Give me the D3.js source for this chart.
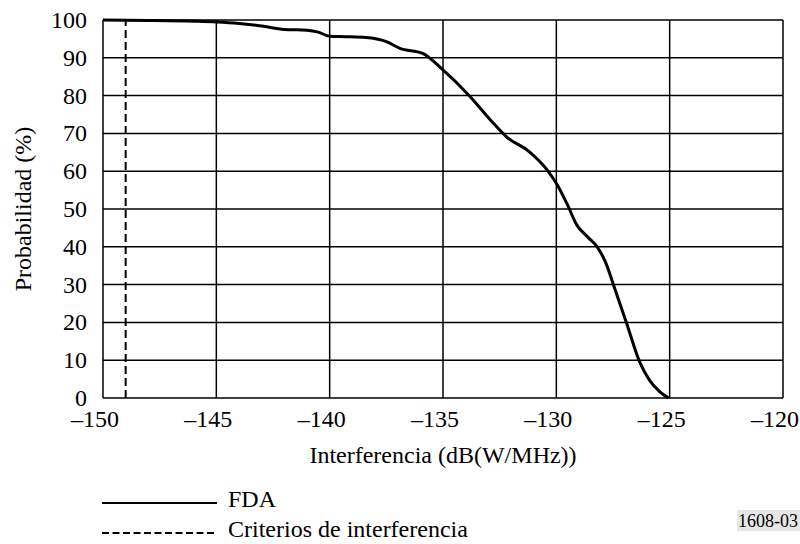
<!DOCTYPE html>
<html>
<head>
<meta charset="utf-8">
<script src="https://cdn.jsdelivr.net/npm/d3@7"></script>
<style>
  body { margin: 0; background: #fff; }
  svg text { font-family: "Liberation Serif", "Times New Roman", serif; fill: #000; }
</style>
</head>
<body>
<div id="chart"></div>
<script>
// FDA curve
const fdaX = [-150, -148, -146, -145, -144, -143, -142, -141, -140.5, -140, -139.3, -138.4, -137.5, -136.9, -135.9, -135, -133.8, -132.9, -132.2, -131.2, -130.4, -130, -129.5, -129.1, -128.6, -128.2, -127.8, -127.5, -126.9, -126.3, -125.9, -125.5, -125.05];
const fdaY = [100, 99.9, 99.7, 99.5, 99.1, 98.4, 97.5, 97.3, 96.8, 95.7, 95.6, 95.4, 94.3, 92.5, 91.2, 86.8, 79.7, 73.5, 69.1, 65.2, 60.3, 56.8, 51, 45.8, 42.5, 40, 35.5, 30.3, 19.8, 9.2, 4.8, 2, 0];
const criterio = -149;
const xTicks = [-150, -145, -140, -135, -130, -125, -120];
const yTicks = [0, 10, 20, 30, 40, 50, 60, 70, 80, 90, 100];
const legendLabels = ['FDA', 'Criterios de interferencia'];

const width = 800, height = 544;
const margin = { left: 103, right: 17, top: 20, bottom: 146 };

const svg = d3.select('#chart').append('svg')
  .attr('width', width)
  .attr('height', height);

const x = d3.scaleLinear().domain([-150, -120]).range([margin.left, width - margin.right]);
const y = d3.scaleLinear().domain([0, 100]).range([height - margin.bottom, margin.top]);
const fmt = d => String(d).replace('-', '\u2013');

// grid
const g = svg.append('g');
g.selectAll('.vg').data(xTicks).join('line')
  .attr('x1', d => x(d)).attr('x2', d => x(d))
  .attr('y1', y(0)).attr('y2', y(100))
  .attr('stroke', '#000').attr('stroke-width', 1.5);
g.selectAll('.hg').data(yTicks).join('line')
  .attr('x1', x(-150)).attr('x2', x(-120))
  .attr('y1', d => y(d)).attr('y2', d => y(d))
  .attr('stroke', '#000').attr('stroke-width', 1.5);

// tick labels
g.selectAll('.xl').data(xTicks).join('text')
  .attr('x', d => x(d) - 8).attr('y', y(0) + 29)
  .attr('text-anchor', 'middle')
  .attr('font-size', 24)
  .text(fmt);
g.selectAll('.yl').data(yTicks).join('text')
  .attr('x', x(-150) - 16).attr('y', d => y(d) + 8)
  .attr('text-anchor', 'end')
  .attr('font-size', 24)
  .text(fmt);

// criterio line
svg.append('line')
  .attr('x1', x(criterio)).attr('x2', x(criterio))
  .attr('y1', y(0)).attr('y2', y(100))
  .attr('stroke', '#000').attr('stroke-width', 2)
  .attr('stroke-dasharray', '8,4');

// FDA curve
const pts = fdaX.map((d, i) => [d, fdaY[i]]);
svg.append('path')
  .datum(pts)
  .attr('fill', 'none')
  .attr('stroke', '#000')
  .attr('stroke-width', 3)
  .attr('stroke-linejoin', 'round')
  .attr('d', d3.line().x(d => x(d[0])).y(d => y(d[1])).curve(d3.curveMonotoneX));

// axis titles
svg.append('text')
  .attr('x', 443).attr('y', 463)
  .attr('text-anchor', 'middle').attr('font-size', 24)
  .text('Interferencia (dB(W/MHz))');
svg.append('text')
  .attr('transform', `translate(31,${(y(0) + y(100)) / 2}) rotate(-90)`)
  .attr('text-anchor', 'middle').attr('font-size', 24)
  .text('Probabilidad (%)');

// legend
const leg = svg.append('g');
leg.selectAll('line').data(legendLabels).join('line')
  .attr('x1', 102).attr('x2', 217)
  .attr('y1', (d, i) => 503 + i * 30).attr('y2', (d, i) => 503 + i * 30)
  .attr('stroke', '#000').attr('stroke-width', 2)
  .attr('stroke-dasharray', (d, i) => i ? '7,3.5' : null);
leg.selectAll('text').data(legendLabels).join('text')
  .attr('x', 228).attr('y', (d, i) => 507 + i * 30)
  .attr('font-size', 24)
  .text(d => d);

// figure code
svg.append('rect').attr('x', 737).attr('y', 510).attr('width', 63).attr('height', 21).attr('fill', '#e6e6e6');
svg.append('text').attr('x', 768).attr('y', 527).attr('text-anchor', 'middle').attr('font-size', 18).text('1608-03');
</script>
</body>
</html>
